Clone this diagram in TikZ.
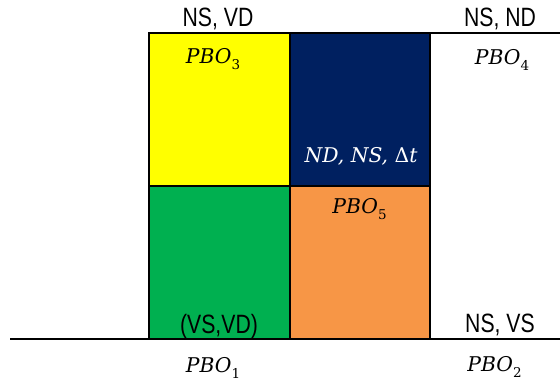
\documentclass[tikz,border=0pt]{standalone}
\usepackage{fontspec}
\setsansfont{Liberation Sans}
\newfontfamily\mfont{DejaVu Serif}
\definecolor{cellyellow}{HTML}{FFFF00}
\definecolor{cellnavy}{HTML}{002060}
\definecolor{cellgreen}{HTML}{00B050}
\definecolor{cellorange}{HTML}{F79646}
% italic symbol with an upright subscript index
\newcommand{\pbo}[1]{{\mfont\itshape PBO}\raisebox{-0.3em}{\mfont\fontsize{13.5}{13.5}\selectfont #1}}
\tikzset{
  cell/.style={draw=black, line width=2.2pt},
  rule/.style={draw=black, line width=2.2pt},
  lab/.style={font=\sffamily\fontsize{26.5}{26.5}\selectfont, xscale=0.8, anchor=base, inner sep=0pt},
  mlab/.style={font=\mfont\fontsize{20.3}{20.3}\selectfont, anchor=base, inner sep=0pt}
}
\begin{document}
\begin{tikzpicture}[x=1pt,y=-1pt]
\useasboundingbox (0,0) rectangle (560,380);
% quadrant cells
\path[cell, fill=cellyellow] (149,33) rectangle (290,186);
\path[cell, fill=cellnavy]   (290,33) rectangle (430,186);
\path[cell, fill=cellgreen]  (149,186) rectangle (290,339);
\path[cell, fill=cellorange] (290,186) rectangle (430,339);
% extended top and bottom rules
\coordinate (tl) at (149,33);
\coordinate (tr) at (560,33);
\coordinate (bl) at (10,339);
\coordinate (br) at (560,339);
\draw[rule] (tl) -- (tr);
\draw[rule] (bl) -- (br);
% labels
\node[lab] (nsvd) at (218,27) {NS, VD};
\node[lab] (nsnd) at (500,27) {NS, ND};
\node[lab] (vsvd) at (219,333) {(VS,VD)};
\node[lab] (nsvs) at (500,332) {NS, VS};
\node[mlab] (p3) at (213,63) {\pbo{3}};
\node[mlab] (p4) at (502,64) {\pbo{4}};
\node[mlab, text=white] (dt) at (361,162) {\itshape ND, NS, \upshape Δ\itshape t};
\node[mlab] (p5) at (359.5,213) {\pbo{5}};
\node[mlab] (p1) at (213,372) {\pbo{1}};
\node[mlab] (p2) at (494.5,371) {\pbo{2}};
\end{tikzpicture}
\end{document}
